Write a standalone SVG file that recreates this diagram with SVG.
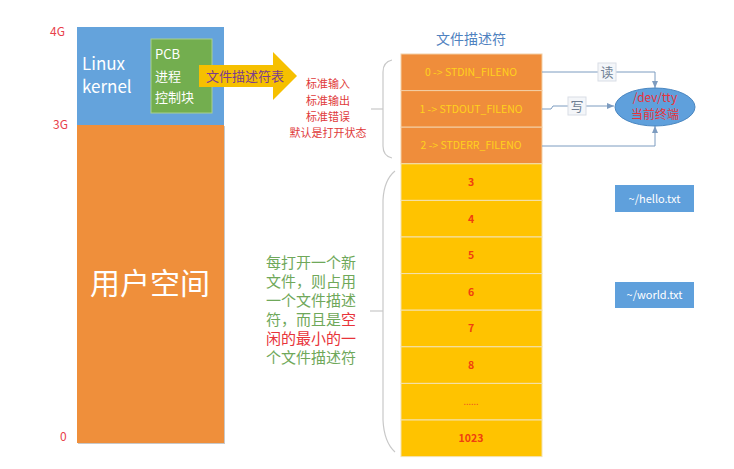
<svg xmlns="http://www.w3.org/2000/svg" width="734" height="469" viewBox="0 0 734 469">
<defs>
<style>
text{font-family:"Noto Sans CJK SC","Noto Sans","Liberation Sans",sans-serif}
.lbl{font-size:12px;fill:#e8414a}
.w{fill:#fff}
.ora{fill:#ef8d3b;stroke:#f3cfa6;stroke-width:1}
.yel{fill:#ffc300;stroke:#f3e2b0;stroke-width:1}
.stdt{font-size:10.5px;fill:#ffd21c;text-anchor:middle}
.num{font-size:10.5px;fill:#f03e10;font-weight:bold;text-anchor:middle}
.red{fill:#e03a3a}
.grn{font-size:15px;fill:#6fa85a}
.rd{fill:#e8333a}
.brace{fill:none;stroke:#c8c8c8;stroke-width:1.2}
.con{fill:none;stroke:#7d9cc0;stroke-width:1}
.file{fill:#5fa0dc}
</style>
<marker id="ah" markerWidth="8" markerHeight="8" refX="7" refY="4" orient="auto" markerUnits="userSpaceOnUse">
<path d="M0,1 L7,4 L0,7 z" fill="#7d9cc0"/>
</marker>
</defs>

<g id="axis">
<text x="50" y="36" class="lbl">4G</text>
<text x="53" y="129" class="lbl">3G</text>
<text x="60" y="441" class="lbl">0</text>
</g>

<g id="kernel">
<rect x="77" y="27" width="147" height="98" fill="#64a3dc"/>
<text x="82" y="70" font-size="17" class="w">Linux</text>
<text x="82" y="93" font-size="17" class="w">kernel</text>
</g>

<g id="userspace">
<rect x="78" y="126" width="147" height="318" fill="#c8c8c8"/>
<rect x="77" y="125" width="147" height="318" fill="#ef8f3b"/>
<text x="150" y="294" font-size="30" class="w" text-anchor="middle">用户空间</text>
</g>

<g id="pcb">
<rect x="151" y="39" width="61" height="74" fill="#73ae4f" stroke="#a9d08e" stroke-width="1"/>
<text x="155" y="59" font-size="13" class="w">PCB</text>
<text x="155" y="81" font-size="13" class="w">进程</text>
<text x="155" y="102" font-size="13" class="w">控制块</text>
</g>

<g id="fdt-arrow">
<path d="M199,65 L273,65 L273,52 L297,76 L273,100 L273,87 L199,87 z" fill="#f6c000"/>
<text x="206" y="81" font-size="13" fill="#7b3c8e">文件描述符表</text>
</g>

<g id="std-note">
<text x="328" y="88" font-size="11" class="red" text-anchor="middle">标准输入</text>
<text x="328" y="105" font-size="11" class="red" text-anchor="middle">标准输出</text>
<text x="328" y="121" font-size="11" class="red" text-anchor="middle">标准错误</text>
<text x="328" y="137" font-size="11" class="red" text-anchor="middle">默认是打开状态</text>
</g>

<g id="fd-table">
<text x="471" y="44" font-size="14" fill="#4f82c0" text-anchor="middle">文件描述符</text>
<rect class="ora" x="401" y="54" width="141" height="36.6"/>
<rect class="ora" x="401" y="90.6" width="141" height="36.6"/>
<rect class="ora" x="401" y="127.2" width="141" height="36.6"/>
<text class="stdt" x="471" y="76">0 -&gt; STDIN_FILENO</text>
<text class="stdt" x="471" y="113">1 -&gt; STDOUT_FILENO</text>
<text class="stdt" x="471" y="149">2 -&gt; STDERR_FILENO</text>
<rect class="yel" x="401" y="163.8" width="141" height="36.6"/>
<rect class="yel" x="401" y="200.4" width="141" height="36.6"/>
<rect class="yel" x="401" y="237" width="141" height="36.6"/>
<rect class="yel" x="401" y="273.6" width="141" height="36.6"/>
<rect class="yel" x="401" y="310.2" width="141" height="36.6"/>
<rect class="yel" x="401" y="346.8" width="141" height="36.6"/>
<rect class="yel" x="401" y="383.4" width="141" height="36.6"/>
<rect class="yel" x="401" y="420" width="141" height="36.6"/>
<text class="num" x="471" y="186">3</text>
<text class="num" x="471" y="223">4</text>
<text class="num" x="471" y="259">5</text>
<text class="num" x="471" y="296">6</text>
<text class="num" x="471" y="332">7</text>
<text class="num" x="471" y="369">8</text>
<text x="471" y="405" font-size="9" fill="#f05a20" text-anchor="middle">......</text>
<text class="num" x="471" y="442">1023</text>
</g>

<g id="braces">
<path class="brace" d="M392,60 Q383,62 383,72 L383,146 Q383,156 392,158"/>
<line class="brace" x1="371" y1="109" x2="383" y2="109"/>
<path class="brace" d="M395,171 Q384,180 383,200 L383,420 Q384,442 395,452"/>
<line class="brace" x1="370" y1="311" x2="383" y2="311"/>
</g>

<g id="green-note">
<text class="grn" x="266" y="268">每打开一个新</text>
<text class="grn" x="266" y="287">文件，则占用</text>
<text class="grn" x="266" y="306">一个文件描述</text>
<text class="grn" x="266" y="325">符，而且是<tspan class="rd">空</tspan></text>
<text class="grn" x="266" y="344"><tspan class="rd">闲的最小的一</tspan></text>
<text class="grn" x="266" y="363">个文件描述符</text>
</g>

<g id="connectors">
<path class="con" d="M542,72 L655,72 L655,88" marker-end="url(#ah)"/>
<path class="con" d="M542,109 L551,109 L553,106 L614,106" marker-end="url(#ah)"/>
<path class="con" d="M542,146 L655,146 L655,126" marker-end="url(#ah)"/>
<rect x="598" y="63" width="18" height="18" fill="#f4f6f9" stroke="#d9dee6"/>
<text x="607" y="77" font-size="13" fill="#6f7f94" text-anchor="middle">读</text>
<rect x="568" y="97" width="18" height="18" fill="#f4f6f9" stroke="#d9dee6"/>
<text x="577" y="111" font-size="13" fill="#6f7f94" text-anchor="middle">写</text>
</g>

<g id="tty">
<ellipse cx="655" cy="107" rx="40" ry="19" fill="#5fa0dc" stroke="#4a86c0" stroke-width="1"/>
<text x="655" y="102" font-size="12" fill="#e8333a" text-anchor="middle">/dev/tty</text>
<text x="655" y="119" font-size="12" fill="#e8333a" text-anchor="middle">当前终端</text>
</g>

<g id="hello">
<rect class="file" x="615" y="185" width="79" height="27"/>
<text x="654.5" y="203" font-size="11" class="w" text-anchor="middle">~/hello.txt</text>
</g>

<g id="world">
<rect class="file" x="615" y="282" width="79" height="26"/>
<text x="654.5" y="299" font-size="11" class="w" text-anchor="middle">~/world.txt</text>
</g>
</svg>
